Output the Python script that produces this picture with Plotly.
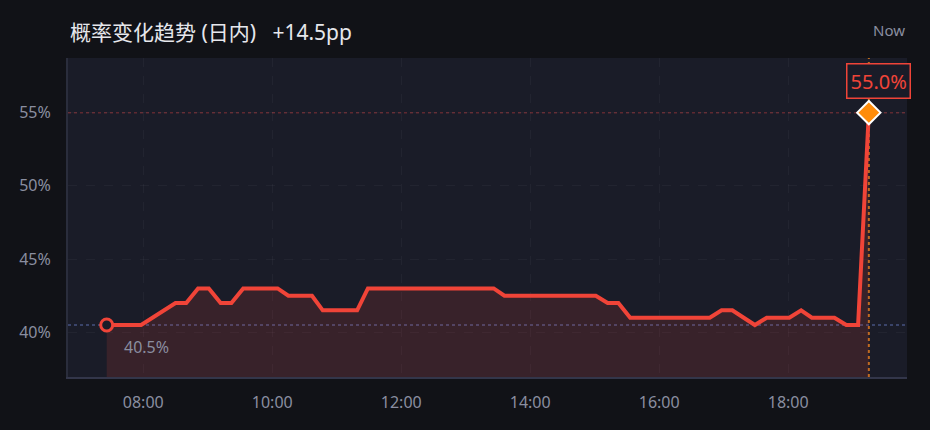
import plotly.graph_objects as go

DAY = "2024-05-20"
times = ["07:26", "07:58", "08:30", "08:40", "08:51", "09:01", "09:12", "09:22",
         "09:33", "10:05", "10:15", "10:37", "10:47", "11:19", "11:29", "13:26",
         "13:36", "15:01", "15:12", "15:22", "15:33", "16:47", "16:58", "17:08",
         "17:29", "17:40", "18:01", "18:12", "18:22", "18:43", "18:54", "19:05",
         "19:15"]
values = [40.5, 40.5, 42, 42, 43, 43, 42, 42,
          43, 43, 42.5, 42.5, 41.5, 41.5, 43, 43,
          42.5, 42.5, 42, 42, 41, 41, 41.5, 41.5,
          40.5, 41, 41, 41.5, 41, 41, 40.5, 40.5,
          55]
y_ticks = [40, 45, 50, 55]
y_tick_labels = ["40%", "45%", "50%", "55%"]
x_range = ["06:50:00", "19:50:30"]
y_range = [36.95, 58.73]
title_text = "概率变化趋势 (日内)\u00a0\u00a0\u00a0+14.5pp"
now_text = "Now"

x = [f"{DAY} {t}" for t in times]
start_x, start_y = x[0], values[0]
end_x, end_y = x[-1], values[-1]

RED = "#f04438"
ORANGE = "#ff8c0a"
PLOT_BG = "#1a1c28"
PAPER_BG = "#111217"
TICK = "#8a8ea0"
FONT = "Noto Sans, Noto Sans CJK SC, sans-serif"

fig = go.Figure()
fig.add_trace(go.Scatter(
    x=x, y=values, mode="lines",
    line=dict(color=RED, width=4, shape="linear"),
    fill="tozeroy", fillcolor="rgba(240,68,56,0.14)",
    hoverinfo="skip", showlegend=False,
))
fig.add_trace(go.Scatter(
    x=[start_x], y=[start_y], mode="markers",
    marker=dict(symbol="circle", size=12, color=PLOT_BG,
                line=dict(color=RED, width=3)),
    showlegend=False, hoverinfo="skip",
))
fig.add_trace(go.Scatter(
    x=[end_x], y=[end_y], mode="markers",
    marker=dict(symbol="diamond", size=18, color=ORANGE,
                line=dict(color="#ffffff", width=2)),
    showlegend=False, hoverinfo="skip",
))

fig.add_shape(type="line", xref="paper", x0=0, x1=1, y0=start_y, y1=start_y,
              line=dict(color="rgba(80,95,150,0.6)", width=2, dash="dot"),
              layer="below")
fig.add_shape(type="line", xref="paper", x0=0, x1=1, y0=end_y, y1=end_y,
              line=dict(color="rgba(200,60,60,0.4)", width=1.5, dash="dot"),
              layer="below")
fig.add_shape(type="line", yref="paper", x0=end_x, x1=end_x, y0=0, y1=1,
              line=dict(color="rgba(230,130,30,0.8)", width=2, dash="dot"),
              layer="below")

fig.add_annotation(
    x=end_x, y=end_y, text=f"{end_y:.1f}%", showarrow=False,
    xanchor="center", yanchor="bottom", xshift=10, yshift=14,
    font=dict(family=FONT, size=20, color=RED),
    bordercolor=RED, borderwidth=1.5, borderpad=3, bgcolor=PLOT_BG,
)
fig.add_annotation(
    x=start_x, y=start_y, text=f"{start_y:.1f}%", showarrow=False,
    xanchor="left", yanchor="middle", xshift=15, yshift=-22,
    font=dict(family=FONT, size=16, color=TICK),
)
fig.add_annotation(
    xref="paper", yref="paper", x=0, y=1.081, xanchor="left", yanchor="middle",
    text=title_text, showarrow=False,
    font=dict(family=FONT, size=21, color="#e6e7ec"),
)
fig.add_annotation(
    xref="paper", yref="paper", x=1, y=1.087, xanchor="right", yanchor="middle",
    text=now_text, showarrow=False,
    font=dict(family=FONT, size=15, color=TICK),
)

fig.update_layout(
    width=930, height=430,
    margin=dict(l=68, r=23, t=58, b=53),
    paper_bgcolor=PAPER_BG, plot_bgcolor=PLOT_BG,
    font=dict(family=FONT, size=16, color=TICK),
    showlegend=False,
)
fig.update_xaxes(
    type="date", range=[f"{DAY} {x_range[0]}", f"{DAY} {x_range[1]}"],
    tick0=f"{DAY} 08:00", dtick=2 * 3600 * 1000, tickformat="%H:%M",
    showgrid=True, gridcolor="rgba(255,255,255,0.04)", griddash="dash", gridwidth=1,
    showline=True, linecolor="#33364a", linewidth=2,
    ticks="", ticklabelstandoff=10, zeroline=False,
    tickfont=dict(family=FONT, size=16, color=TICK),
)
fig.update_yaxes(
    range=y_range, tickvals=y_ticks, ticktext=y_tick_labels,
    showgrid=True, gridcolor="rgba(255,255,255,0.04)", griddash="dash", gridwidth=1,
    showline=True, linecolor="#2a2d3c", linewidth=2,
    ticks="", ticklabelstandoff=12, zeroline=False,
    tickfont=dict(family=FONT, size=16, color=TICK),
)

fig.write_html(
    "out.html",
    config={"displayModeBar": False},
    post_script="document.body.style.margin='0';document.body.style.background='#111217';",
)
